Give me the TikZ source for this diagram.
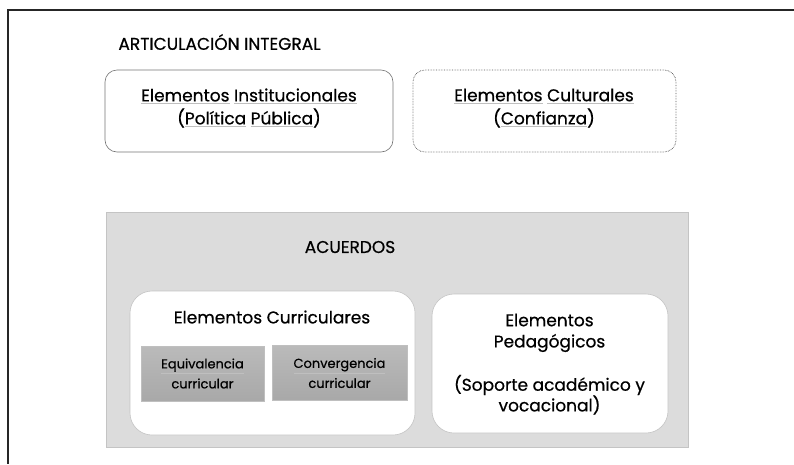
\documentclass[tikz,border=0pt]{standalone}
\usepackage{fontspec}
\setmainfont{Poppins}[FakeBold=0.6]
\usetikzlibrary{positioning}
\definecolor{panelgray}{HTML}{DCDCDC}
\definecolor{edgegray}{HTML}{C4C4C4}
\newcommand{\ulword}[1]{{\color{black!25}\underline{\color{black}#1}}}

\begin{document}
\begin{tikzpicture}[x=1pt,y=-1pt,
    txt/.style={font=\fontsize{17}{20}\selectfont, inner sep=0pt},
    small/.style={font=\fontsize{13}{20}\selectfont, align=center},
    topbox/.style={draw=black!55, rounded corners=12pt, line width=0.6pt},
    whitebox/.style={draw=edgegray, fill=white, rounded corners=22pt, line width=0.6pt},
    graybox/.style={draw=black!25, top color=black!27, bottom color=black!34, line width=0.5pt}]
    \useasboundingbox (0,0) rectangle (794,464);
    \draw[black!85, line width=1.3pt] (794,10) -- (8,10) -- (8,464);
    \node[txt] (title) at (219.5,42) {ARTICULACIÓN INTEGRAL};
    \node[topbox, minimum width=288pt, minimum height=82pt] (inst) at (249,111) {};
    \node[txt] (insta) at (249,96) {\ulword{Elementos} \ulword{Institucionales}};
    \node[txt] (instb) at (249,118) {(\ulword{Política} \ulword{Pública})};
    \node[topbox, draw=black!65, densely dotted, line width=0.8pt, minimum width=263pt, minimum height=82pt] (cult) at (544.5,111) {};
    \node[txt] (culta) at (544,96) {\ulword{Elementos} \ulword{Culturales}};
    \node[txt] (cultb) at (544,118) {(\ulword{Confianza})};
    \node[draw=edgegray, fill=panelgray, minimum width=582pt, minimum height=235pt] (acuerdos) at (397,329.5) {};
    \node[txt] (acuerdost) at (350,247) {ACUERDOS};
    \node[whitebox, minimum width=285pt, minimum height=144pt] (curr) at (272.5,363) {};
    \node[txt] (currt) at (272,317) {Elementos Curriculares};
    \node[graybox, small, minimum width=123pt, minimum height=55pt] (equiv) at (202.5,373.5) {\ulword{Equivalencia}\\curricular};
    \node[graybox, small, minimum width=135pt, minimum height=55pt] (conv) at (339.5,373) {\ulword{Convergencia}\\curricular};
    \node[whitebox, minimum width=236pt, minimum height=139pt] (ped) at (550,363.5) {};
    \node[txt] (peda) at (549.5,320) {Elementos};
    \node[txt] (pedb) at (549.5,343) {Pedagógicos};
    \node[txt] (pedc) at (549.5,385) {(Soporte académico y};
    \node[txt] (pedd) at (549.5,405) {vocacional)};
\end{tikzpicture}
\end{document}
